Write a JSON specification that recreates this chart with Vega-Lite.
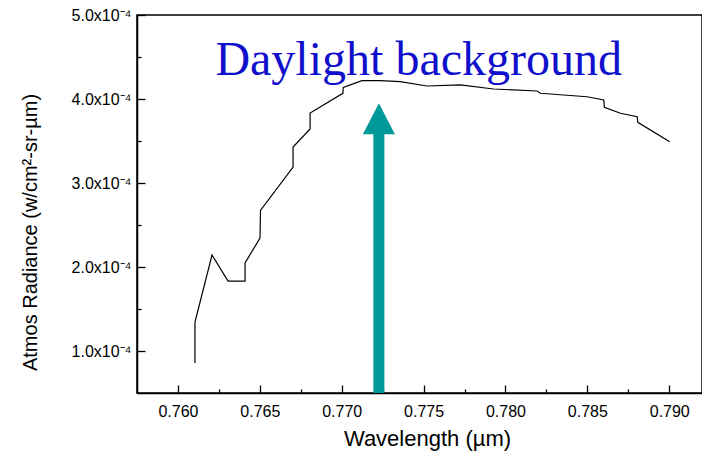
{
  "$schema": "https://vega.github.io/schema/vega-lite/v6.json",
  "width": 565,
  "height": 378,
  "autosize": {"type": "none"},
  "padding": {"left": 137, "top": 15, "right": 0, "bottom": 59},
  "background": "white",
  "config": {
    "view": {"stroke": "black", "strokeWidth": 1.5},
    "axis": {
      "labelFont": "Liberation Sans",
      "labelFontSize": 16,
      "titleFont": "Liberation Sans",
      "labelColor": "black",
      "titleColor": "black",
      "titleFontWeight": "normal",
      "domainColor": "black",
      "domainWidth": 1.5,
      "tickColor": "black",
      "tickWidth": 1.3,
      "grid": false
    }
  },
  "datasets": {
    "curve": [
      {"i": 0, "wavelength": 0.76104, "radiance": 0.857e-4},
      {"i": 1, "wavelength": 0.76104, "radiance": 1.345e-4},
      {"i": 2, "wavelength": 0.76208, "radiance": 2.143e-4},
      {"i": 3, "wavelength": 0.76306, "radiance": 1.833e-4},
      {"i": 4, "wavelength": 0.76410, "radiance": 1.833e-4},
      {"i": 5, "wavelength": 0.76410, "radiance": 2.048e-4},
      {"i": 6, "wavelength": 0.76501, "radiance": 2.345e-4},
      {"i": 7, "wavelength": 0.76504, "radiance": 2.673e-4},
      {"i": 8, "wavelength": 0.76703, "radiance": 3.190e-4},
      {"i": 9, "wavelength": 0.76703, "radiance": 3.429e-4},
      {"i": 10, "wavelength": 0.76807, "radiance": 3.643e-4},
      {"i": 11, "wavelength": 0.76807, "radiance": 3.833e-4},
      {"i": 12, "wavelength": 0.77007, "radiance": 4.068e-4},
      {"i": 13, "wavelength": 0.77010, "radiance": 4.139e-4},
      {"i": 14, "wavelength": 0.77123, "radiance": 4.218e-4},
      {"i": 15, "wavelength": 0.77235, "radiance": 4.218e-4},
      {"i": 16, "wavelength": 0.77357, "radiance": 4.206e-4},
      {"i": 17, "wavelength": 0.77520, "radiance": 4.155e-4},
      {"i": 18, "wavelength": 0.77724, "radiance": 4.167e-4},
      {"i": 19, "wavelength": 0.77927, "radiance": 4.119e-4},
      {"i": 20, "wavelength": 0.78193, "radiance": 4.095e-4},
      {"i": 21, "wavelength": 0.78213, "radiance": 4.068e-4},
      {"i": 22, "wavelength": 0.78498, "radiance": 4.027e-4},
      {"i": 23, "wavelength": 0.78600, "radiance": 3.988e-4},
      {"i": 24, "wavelength": 0.78604, "radiance": 3.901e-4},
      {"i": 25, "wavelength": 0.78702, "radiance": 3.830e-4},
      {"i": 26, "wavelength": 0.78804, "radiance": 3.789e-4},
      {"i": 27, "wavelength": 0.78808, "radiance": 3.723e-4},
      {"i": 28, "wavelength": 0.79003, "radiance": 3.492e-4}
    ],
    "arrow": [
      {"x": 0.77227, "y_start": 0.5e-4, "y_end": 3.62e-4, "head": 3.764e-4}
    ],
    "label": [
      {"x": 0.7747, "y": 4.286e-4, "text": "Daylight background"}
    ]
  },
  "layer": [
    {
      "data": {"name": "curve"},
      "mark": {"type": "line", "color": "black", "strokeWidth": 1.2},
      "encoding": {
        "x": {
          "field": "wavelength",
          "type": "quantitative",
          "scale": {"domain": [0.7575, 0.792], "nice": false, "zero": false},
          "axis": {
            "values": [0.76, 0.7625, 0.765, 0.7675, 0.77, 0.7725, 0.775, 0.7775, 0.78, 0.7825, 0.785, 0.7875, 0.79],
            "labelExpr": "abs(datum.value*200 - round(datum.value*200)) < 0.01 ? format(datum.value, '.3f') : ''",
            "tickSize": -8,
            "tickDash": {"condition": {"test": "abs(datum.value*200 - round(datum.value*200)) < 0.01", "value": [20, 0]}, "value": [4, 30]},
            "labelPadding": 18,
            "labelFontSize": 16,
            "title": "Wavelength (µm)",
            "titleFontSize": 22,
            "titleX": 290,
            "titleY": 45,
            "titleBaseline": "middle",
            "titleAlign": "center"
          }
        },
        "y": {
          "field": "radiance",
          "type": "quantitative",
          "scale": {"domain": [0.5e-4, 5.0e-4], "nice": false, "zero": false},
          "axis": {
            "values": [1e-4, 1.5e-4, 2e-4, 2.5e-4, 3e-4, 3.5e-4, 4e-4, 4.5e-4, 5e-4],
            "labelExpr": "abs(datum.value*1e4 - round(datum.value*1e4)) < 0.01 ? format(datum.value*1e4, '.1f') + 'x10⁻⁴' : ''",
            "tickSize": -8,
            "tickDash": {"condition": {"test": "abs(datum.value*1e4 - round(datum.value*1e4)) < 0.01", "value": [20, 0]}, "value": [4, 30]},
            "labelPadding": 14,
            "labelFontSize": 16,
            "title": "Atmos Radiance (w/cm²-sr-µm)",
            "titleFontSize": 20,
            "titleAngle": -90,
            "titleX": -107,
            "titleY": 217,
            "titleBaseline": "middle",
            "titleAlign": "center"
          }
        },
        "order": {"field": "i", "type": "quantitative"}
      }
    },
    {
      "data": {"name": "arrow"},
      "mark": {"type": "rule", "color": "#009999", "strokeWidth": 11},
      "encoding": {
        "x": {"field": "x", "type": "quantitative"},
        "y": {"field": "y_start", "type": "quantitative"},
        "y2": {"field": "y_end"}
      }
    },
    {
      "data": {"name": "arrow"},
      "mark": {"type": "point", "shape": "M-1,0.97L0,-0.97L1,0.97Z", "size": 1024, "filled": true, "color": "#009999", "opacity": 1},
      "encoding": {
        "x": {"field": "x", "type": "quantitative"},
        "y": {"field": "head", "type": "quantitative"}
      }
    },
    {
      "data": {"name": "label"},
      "mark": {"type": "text", "font": "Liberation Serif", "fontSize": 48, "color": "#1010cc", "align": "center", "baseline": "alphabetic"},
      "encoding": {
        "x": {"field": "x", "type": "quantitative"},
        "y": {"field": "y", "type": "quantitative"},
        "text": {"field": "text"}
      }
    }
  ]
}
